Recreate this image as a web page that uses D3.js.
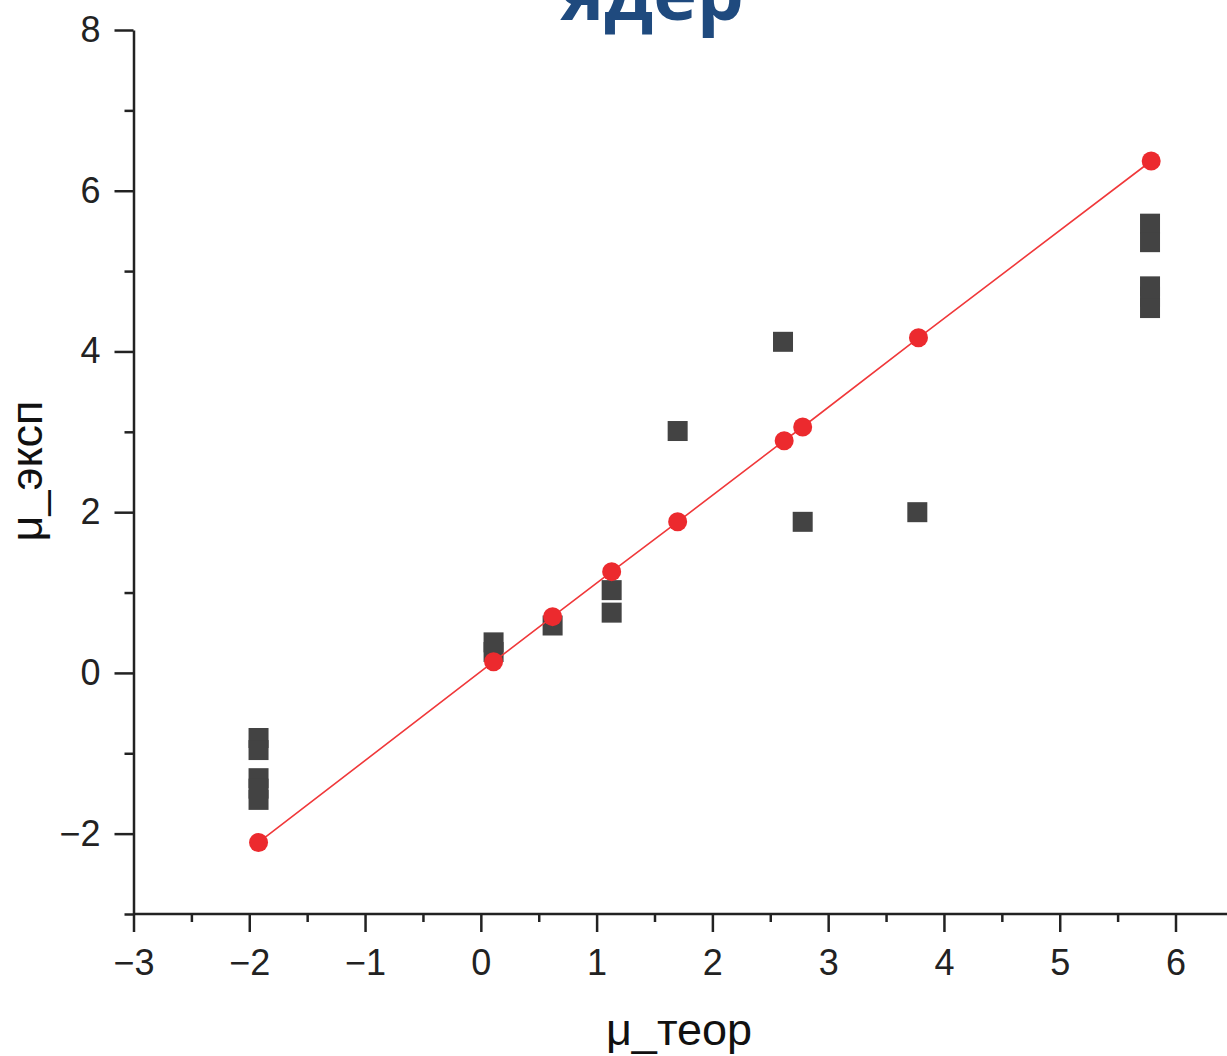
<!DOCTYPE html>
<html>
<head>
    <meta charset="utf-8">
    <title>μ_эксп vs μ_теор</title>
    <script src="https://d3js.org/d3.v7.min.js"></script>
    <style>
        body {
            margin: 0;
            background: #fff;
        }

        svg {
            display: block;
        }

        .tick text {
            font-family: "Liberation Sans", Arial, sans-serif;
            font-size: 36px;
            fill: #222;
        }

        .axis-title {
            font-family: "Liberation Sans", Arial, sans-serif;
            font-size: 45px;
            fill: #111;
        }
    </style>
</head>
<body>
    <div id="chart"></div>
    <script>
        // fitted (red) points: theory vs experiment
        const fitTheory = [-1.92, 0.11, 0.62, 1.13, 1.70, 2.62, 2.78, 3.78, 5.79]
        const fitExp = [-2.11, 0.14, 0.70, 1.26, 1.88, 2.89, 3.06, 4.17, 6.37]

        // measured (grey squares)
        const expTheory = [-1.92, -1.92, -1.92, -1.92, -1.92,
            0.11, 0.11, 0.62, 1.13, 1.13, 1.70, 2.61, 2.78, 3.77,
            5.78, 5.78, 5.78, 5.78, 5.78]
        const expValues = [-0.81, -0.96, -1.31, -1.44, -1.58,
            0.38, 0.26, 0.59, 1.03, 0.75, 3.01, 4.12, 1.88, 2.00,
            5.59, 5.36, 4.81, 4.68, 4.54]

        const xMajor = [-3, -2, -1, 0, 1, 2, 3, 4, 5, 6]
        const xMinor = [-2.5, -1.5, -0.5, 0.5, 1.5, 2.5, 3.5, 4.5, 5.5]
        const yMajor = [-2, 0, 2, 4, 6, 8]
        const yMinor = [-3, -1, 1, 3, 5, 7]

        const w = 1227
        const h = 1056
        const padLeft = 133.5
        const padTop = 30
        const axisY = 914

        const x = d3.scaleLinear().domain([-3, 6]).range([padLeft, 1175.5])
        const y = d3.scaleLinear().domain([-3, 8]).range([axisY, padTop])

        const svg = d3.select("#chart").append("svg")
            .attr("width", w)
            .attr("height", h)

        // title, mostly cut off above the picture (as in the original)
        svg.append("text")
            .attr("x", 652)
            .attr("y", 20)
            .attr("text-anchor", "middle")
            .style("font-family", "'Open Sans', sans-serif")
            .style("font-weight", "bold")
            .style("font-size", "74px")
            .style("fill", "#1f4a7e")
            .text("ядер")

        // grey squares
        const sq = 20
        svg.append("g").selectAll("rect")
            .data(expValues)
            .enter()
            .append("rect")
            .attr("x", (d, i) => x(expTheory[i]) - sq / 2)
            .attr("y", (d) => y(d) - sq / 2)
            .attr("width", sq)
            .attr("height", sq)
            .attr("fill", "#434343")

        // red line + points
        const fit = fitTheory.map((t, i) => [t, fitExp[i]])
        svg.append("path")
            .datum(fit)
            .attr("d", d3.line().x(d => x(d[0])).y(d => y(d[1])))
            .attr("fill", "none")
            .attr("stroke", "#f0383a")
            .attr("stroke-width", 1.6)

        svg.append("g").selectAll("circle")
            .data(fit)
            .enter()
            .append("circle")
            .attr("cx", d => x(d[0]))
            .attr("cy", d => y(d[1]))
            .attr("r", 9.5)
            .attr("fill", "#ec2a2e")

        // axes
        const fmt = d => d < 0 ? "\u2212" + Math.abs(d) : "" + d

        const xAxis = svg.append("g")
            .attr("transform", "translate(0," + axisY + ")")
            .call(d3.axisBottom(x).tickValues(xMajor).tickFormat(fmt).tickSize(18).tickSizeOuter(0).tickPadding(17))
        xAxis.select(".domain").attr("d", "M" + padLeft + ",0H" + (w + 10))
        svg.append("g")
            .attr("transform", "translate(0," + axisY + ")")
            .call(d3.axisBottom(x).tickValues(xMinor).tickFormat("").tickSize(8).tickSizeOuter(0))
            .select(".domain").remove()

        const yAxis = svg.append("g")
            .attr("transform", "translate(" + padLeft + ",0)")
            .call(d3.axisLeft(y).tickValues(yMajor).tickFormat(fmt).tickSize(19).tickSizeOuter(0).tickPadding(14))
        svg.append("g")
            .attr("transform", "translate(" + padLeft + ",0)")
            .call(d3.axisLeft(y).tickValues(yMinor).tickFormat("").tickSize(9).tickSizeOuter(0))
            .select(".domain").remove()

        svg.selectAll(".domain, .tick line")
            .attr("stroke", "#222")
            .attr("stroke-width", 2.5)
        svg.selectAll(".tick text").attr("font-size", null).attr("font-family", null).attr("fill", null)

        // axis titles
        svg.append("text")
            .attr("class", "axis-title")
            .attr("x", 679)
            .attr("y", 1045)
            .attr("text-anchor", "middle")
            .text("μ_теор")

        svg.append("text")
            .attr("class", "axis-title")
            .attr("transform", "translate(42,471) rotate(-90)")
            .attr("text-anchor", "middle")
            .text("μ_эксп")
    </script>
</body>
</html>
